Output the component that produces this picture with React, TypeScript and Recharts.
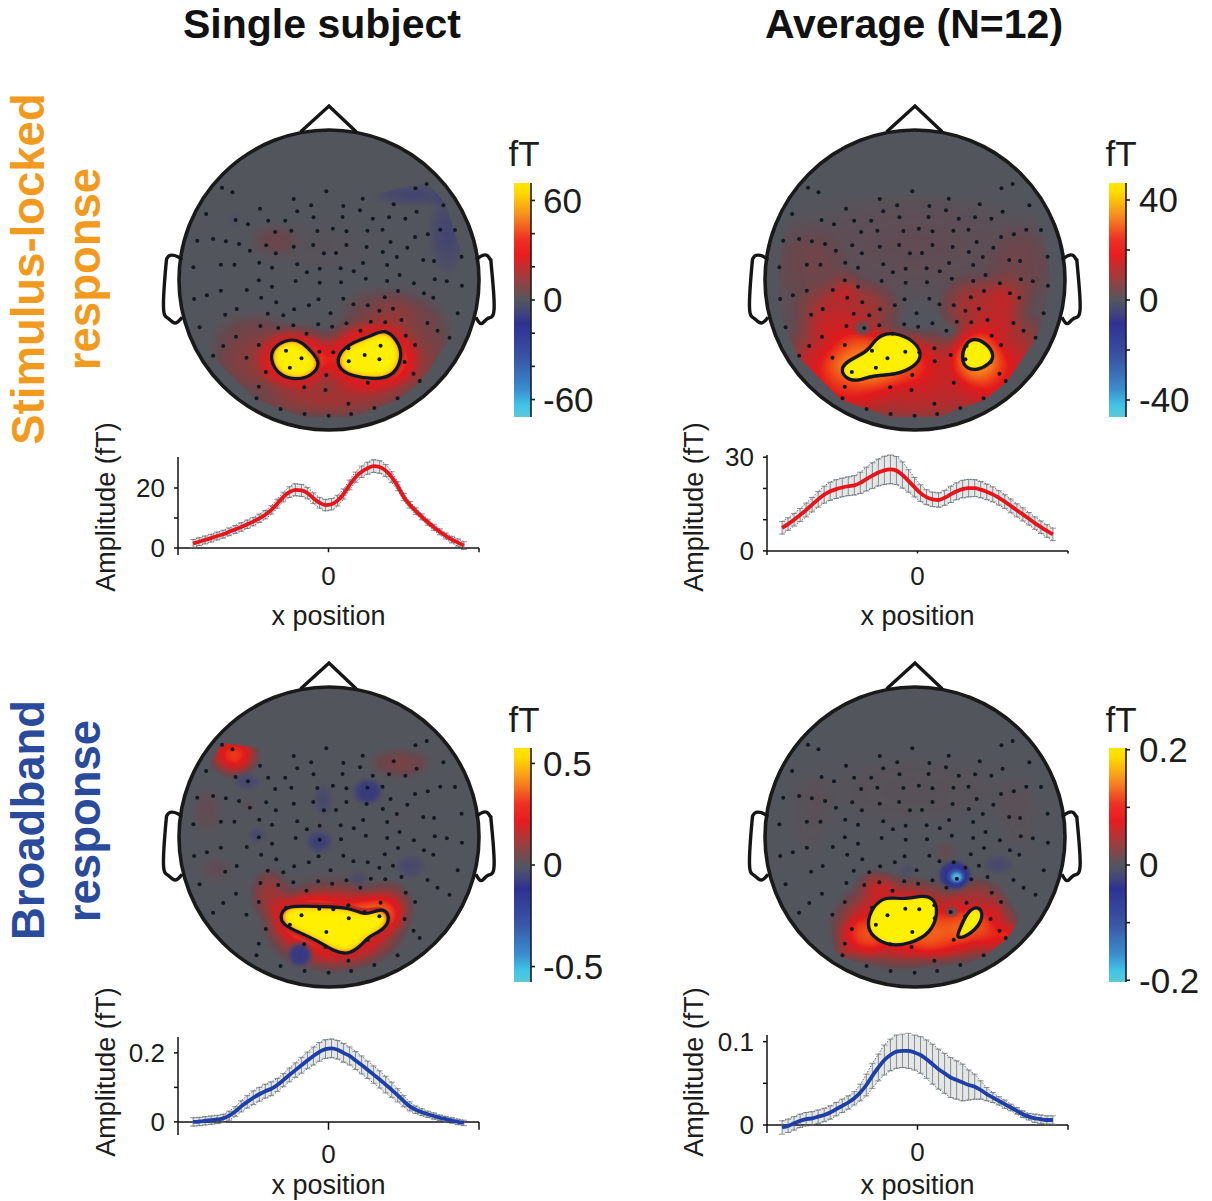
import React from "react"
import {
  ComposedChart,
  ScatterChart,
  Scatter,
  Line,
  Area,
  Bar,
  ErrorBar,
  XAxis,
  YAxis,
  ReferenceLine,
} from "recharts"

// x position along the sensor array
const xPositions = [
  -0.9, -0.86, -0.82, -0.78, -0.74, -0.7, -0.66, -0.62, -0.58, -0.54, -0.5, -0.46, -0.42, -0.38, -0.34, -0.3, -0.26,
  -0.22, -0.18, -0.14, -0.1, -0.06, -0.02, 0.02, 0.06, 0.1, 0.14, 0.18, 0.22, 0.26, 0.3, 0.34, 0.38, 0.42, 0.46, 0.5,
  0.54, 0.58, 0.62, 0.66, 0.7, 0.74, 0.78, 0.82, 0.86, 0.9,
]

const stimSingleMean = [
  1.5, 2.1, 2.7, 3.3, 4.0, 4.6, 5.4, 6.2, 7.0, 7.9, 8.8, 9.9, 11.1, 12.7, 14.8, 17.0, 18.6, 19.4, 19.2, 18.3, 16.6,
  15.1, 14.3, 14.6, 15.8, 18.0, 21.0, 23.6, 25.4, 26.6, 27.3, 27.0, 25.8, 23.6, 20.6, 17.0, 14.4, 12.3, 10.4, 8.6, 6.9,
  5.4, 4.0, 2.8, 1.8, 0.8,
]
const stimSingleErr = [
  1.3, 1.3, 1.3, 1.3, 1.3, 1.3, 1.3, 1.3, 1.4, 1.4, 1.4, 1.4, 1.4, 1.4, 1.5, 1.6, 1.8, 2, 2, 1.9, 1.8, 1.8, 1.9, 1.9,
  1.8, 1.7, 1.6, 1.7, 1.9, 2, 2.1, 2.1, 2, 1.8, 1.5, 1.2, 1.1, 1.1, 1, 1, 1, 1, 1, 1.1, 1.2, 1.3,
]
const stimAvgMean = [
  7.4, 8.6, 10.0, 11.5, 13.1, 14.8, 16.5, 18.0, 19.1, 19.8, 20.3, 20.7, 21.0, 21.8, 23.0, 24.1, 25.1, 25.8, 26.1, 25.7,
  24.3, 22.4, 20.4, 18.5, 17.2, 16.5, 16.3, 17.0, 18.1, 19.1, 19.8, 20.1, 20.1, 19.6, 18.9, 18.1, 17.0, 15.8, 14.4,
  13.0, 11.7, 10.3, 8.9, 7.6, 6.4, 5.3,
]
const stimAvgErr = [
  2, 2, 2, 2.1, 2.2, 2.3, 2.5, 2.7, 2.9, 3, 3, 3, 3.1, 3.4, 3.8, 4.1, 4.3, 4.5, 4.6, 4.5, 4.2, 3.6, 3.1, 2.7, 2.4, 2.3,
  2.3, 2.4, 2.6, 2.7, 2.8, 2.8, 2.7, 2.6, 2.5, 2.4, 2.3, 2.2, 2.2, 2.1, 2.1, 2, 2, 2, 2, 2,
]
const broadSingleMean = [
  0, 0.001, 0.003, 0.005, 0.007, 0.01, 0.018, 0.03, 0.045, 0.058, 0.07, 0.08, 0.089, 0.096, 0.107, 0.121, 0.136, 0.15,
  0.164, 0.178, 0.191, 0.203, 0.211, 0.213, 0.209, 0.2, 0.191, 0.178, 0.165, 0.151, 0.137, 0.123, 0.108, 0.093, 0.077,
  0.06, 0.045, 0.035, 0.028, 0.022, 0.017, 0.012, 0.008, 0.004, 0, -0.003,
]
const broadSingleErr = [
  0.012, 0.012, 0.012, 0.012, 0.012, 0.012, 0.013, 0.014, 0.016, 0.018, 0.02, 0.02, 0.02, 0.02, 0.019, 0.019, 0.02,
  0.021, 0.023, 0.024, 0.026, 0.027, 0.027, 0.027, 0.027, 0.027, 0.026, 0.026, 0.026, 0.025, 0.025, 0.025, 0.024, 0.022,
  0.019, 0.016, 0.013, 0.011, 0.01, 0.009, 0.009, 0.008, 0.008, 0.008, 0.008, 0.008,
]
const broadAvgMean = [
  -0.003, -0.001, 0.002, 0.005, 0.007, 0.008, 0.01, 0.012, 0.015, 0.019, 0.023, 0.027, 0.032, 0.039, 0.048, 0.059,
  0.069, 0.078, 0.084, 0.088, 0.089, 0.089, 0.087, 0.084, 0.079, 0.073, 0.067, 0.062, 0.057, 0.054, 0.051, 0.048, 0.046,
  0.042, 0.037, 0.033, 0.029, 0.025, 0.021, 0.017, 0.013, 0.01, 0.008, 0.007, 0.006, 0.006,
]
const broadAvgErr = [
  0.008, 0.008, 0.008, 0.008, 0.008, 0.008, 0.008, 0.008, 0.008, 0.008, 0.008, 0.008, 0.008, 0.01, 0.013, 0.015, 0.016,
  0.018, 0.019, 0.02, 0.02, 0.021, 0.021, 0.022, 0.023, 0.024, 0.024, 0.024, 0.024, 0.023, 0.022, 0.018, 0.015, 0.011,
  0.008, 0.006, 0.005, 0.005, 0.004, 0.004, 0.004, 0.004, 0.005, 0.005, 0.005, 0.005,
]

// sensor layout, in the head map's own units (same grid for the four maps)
const sensors = [
  [569, 323], [596, 337], [838, 334], [1068, 325], [1097, 312], [754, 357], [932, 356], [799, 376], [882, 378],
  [667, 386], [1012, 373], [1140, 376], [763, 394], [925, 391], [1071, 395], [528, 402], [805, 412], [880, 411],
  [958, 416], [1000, 412], [1042, 416], [604, 420], [688, 422], [732, 422], [636, 433], [855, 446], [748, 452],
  [706, 456], [815, 453], [890, 454], [944, 452], [983, 449], [1132, 449], [1170, 450], [1100, 463], [546, 477],
  [505, 482], [579, 484], [1067, 471], [1004, 486], [613, 492], [683, 496], [754, 500], [804, 495], [890, 495],
  [942, 501], [1047, 503], [641, 512], [708, 520], [832, 520], [863, 519], [984, 516], [1020, 531], [1187, 530],
  [1088, 540], [1116, 543], [665, 548], [933, 549], [763, 553], [995, 555], [566, 554], [601, 554], [495, 562],
  [698, 563], [821, 566], [875, 565], [788, 577], [909, 574], [1027, 585], [940, 596], [1118, 598], [1149, 604],
  [664, 601], [759, 603], [821, 608], [876, 607], [995, 603], [1064, 610], [698, 620], [1188, 617], [1023, 633],
  [633, 630], [566, 632], [530, 646], [497, 657], [1090, 640], [1114, 653], [670, 653], [882, 656], [818, 658],
  [989, 652], [908, 673], [709, 667], [793, 676], [945, 676], [755, 688], [975, 692], [1010, 686], [607, 687],
  [577, 704], [687, 701], [849, 700], [727, 706], [1177, 700], [890, 730], [817, 733], [853, 740], [1032, 720],
  [990, 727], [953, 725], [668, 738], [714, 744], [753, 736], [1099, 729], [511, 742], [926, 752], [1125, 752],
  [787, 761], [605, 770], [1156, 773], [1043, 767], [664, 795], [572, 798], [978, 797], [1067, 795], [734, 812],
  [895, 805], [820, 815], [856, 817], [546, 827], [632, 833], [774, 835], [937, 825], [975, 838], [896, 844],
  [1040, 846], [744, 863], [682, 876], [838, 885], [1063, 881], [945, 908], [1079, 903], [781, 922], [664, 920],
  [836, 930], [658, 955], [1022, 955], [895, 971], [962, 984], [720, 987], [782, 1002], [902, 1002], [844, 1007],
]
const headCentre = [[845, 600]]
const noseLine = [[772, 155], [845, 78], [915, 155]]
const leftEar = [[465, 540], [455, 530], [435, 526], [427, 535], [424, 560], [418, 680], [430, 715], [448, 729], [466, 712]]
const rightEar = [[1225, 540], [1235, 530], [1252, 526], [1262, 540], [1264, 560], [1271, 685], [1255, 715], [1238, 731], [1224, 712]]
const sensorHull = [
  [569, 318], [760, 345], [950, 345], [1097, 305], [1145, 370], [1190, 530], [1192, 620], [1178, 700], [1158, 775],
  [1082, 905], [1024, 960], [904, 1012], [780, 1012], [655, 960], [543, 830], [508, 745], [493, 655], [493, 560],
  [503, 480], [526, 400],
]

// field patches: centre x, centre y, extent x, extent y, strength
const stimSingleGlow = [
  [860, 880, 320, 170, 0.2], [650, 810, 140, 140, 0.2], [1050, 790, 140, 190, 0.22], [965, 710, 120, 110, 0.16],
  [760, 838, 105, 100, 0.68], [950, 835, 140, 115, 0.68], [700, 480, 80, 60, 0.12], [850, 960, 220, 60, 0.2],
  [820, 500, 200, 110, 0.06],
]
const stimSingleCold = [[1060, 345, 130, 42, 0.22], [1150, 460, 60, 150, 0.22], [600, 420, 30, 40, 0.1]]
const stimSingleCores = [
  [[745, 775], [700, 800], [693, 840], [715, 885], [755, 900], [800, 890], [825, 850], [800, 815], [775, 785]],
  [[990, 745], [950, 770], [900, 790], [870, 820], [865, 860], [900, 890], [985, 900], [1020, 875], [1035, 820], [1020, 780]],
]
const stimAvgGlow = [
  [790, 500, 430, 220, 0.11], [500, 620, 130, 230, 0.11], [1080, 620, 120, 230, 0.11], [790, 900, 360, 170, 0.45],
  [590, 860, 170, 170, 0.42], [1020, 850, 150, 170, 0.38], [620, 700, 150, 110, 0.36], [960, 690, 120, 110, 0.36],
  [700, 840, 165, 100, 0.48], [950, 830, 80, 95, 0.55], [1040, 640, 60, 70, 0.16], [610, 620, 40, 50, 0.18],
]
const stimAvgNeutral = [[655, 745, 28, 28], [875, 750, 28, 30]]
const stimAvgCores = [
  [[715, 758], [685, 780], [670, 815], [620, 840], [597, 865], [610, 895], [640, 905], [680, 885], [740, 885], [790, 860], [810, 825], [790, 785], [750, 762]],
  [[940, 772], [918, 795], [910, 835], [920, 865], [950, 872], [985, 850], [995, 825], [975, 790]],
]
const broadSingleGlow = [
  [860, 800, 235, 170, 0.14], [860, 835, 190, 140, 0.62], [780, 800, 105, 80, 0.42], [965, 790, 85, 70, 0.42],
  [690, 730, 55, 85, 0.3], [1005, 770, 65, 85, 0.3], [600, 315, 70, 70, 0.65], [1030, 340, 100, 55, 0.2],
  [530, 480, 55, 90, 0.12], [555, 660, 55, 55, 0.12], [640, 470, 25, 20, 0.18], [820, 525, 15, 15, 0.22],
  [1020, 490, 15, 15, 0.22],
]
const broadSingleCold = [
  [770, 915, 38, 45, 0.4], [945, 425, 50, 50, 0.34], [830, 450, 32, 65, 0.2], [820, 575, 45, 45, 0.28],
  [660, 555, 32, 32, 0.2], [635, 395, 45, 32, 0.22], [1055, 650, 50, 45, 0.2], [920, 685, 32, 28, 0.18],
  [840, 295, 38, 14, 0.22],
]
const broadSingleCores = [
  [[735, 765], [718, 795], [725, 825], [770, 848], [820, 875], [860, 905], [895, 915], [930, 885], [945, 860], [990, 838], [1003, 800], [985, 775], [960, 785], [935, 795], [900, 772], [820, 770]],
]
const broadAvgGlow = [
  [760, 820, 205, 150, 0.6], [900, 860, 175, 90, 0.45], [950, 755, 90, 80, 0.35], [1000, 830, 70, 90, 0.36],
  [650, 865, 75, 75, 0.4], [930, 830, 60, 70, 0.3], [690, 700, 60, 45, 0.3], [1040, 860, 35, 35, 0.35],
  [600, 915, 25, 25, 0.35], [790, 420, 330, 150, 0.07], [520, 500, 75, 170, 0.07], [1060, 500, 75, 150, 0.07],
  [870, 605, 40, 40, 0.14],
]
const broadAvgCold = [
  [893, 675, 48, 50, 0.68], [898, 682, 24, 24, 1], [898, 682, 18, 18, 1], [1005, 645, 52, 38, 0.2],
  [770, 660, 28, 28, 0.14], [645, 690, 16, 12, 0.14],
]
const broadAvgNeutral = [[885, 785, 20, 20]]
const broadAvgCores = [
  [[715, 738], [680, 770], [665, 825], [680, 860], [725, 890], [780, 880], [830, 850], [850, 790], [840, 745], [810, 735], [760, 750]],
  [[950, 768], [925, 785], [905, 840], [895, 868], [930, 855], [960, 820], [965, 785]],
]

const FONT = '"Liberation Sans", Arial, sans-serif'
const INK = "#1c1c1c"
const MAP_X = [409, 1281]
const MAP_Y = [60, 1062]
const MAP_W = 338
const MAP_H = 334
const unitX = MAP_W / (MAP_X[1] - MAP_X[0])
const unitY = MAP_H / (MAP_Y[1] - MAP_Y[0])

const toPoints = (rows, dx = 0, dy = 0) => rows.map((r) => ({ x: r[0] + dx, y: r[1] + dy }))
const toPatches = (rows, dx = 0, dy = 0) =>
  rows.map((r) => ({ x: r[0] + dx, y: r[1] + dy, rx: r[2], ry: r[3], v: r[4] ?? 1 }))

const Patch = ({ cx, cy, payload }: any) => (
  <ellipse cx={cx} cy={cy} rx={payload.rx * unitX} ry={payload.ry * unitY} fill="url(#spotFade)" fillOpacity={payload.v} />
)
const GreyPatch = ({ cx, cy, payload }: any) => (
  <ellipse cx={cx} cy={cy} rx={payload.rx * unitX} ry={payload.ry * unitY} fill="url(#greyFade)" />
)
const SensorDot = ({ cx, cy }: any) => <circle cx={cx} cy={cy} r={2} fill="#101820" />
const HeadDisc = ({ cx, cy }: any) => <circle cx={cx} cy={cy} r={150} fill="#53555d" stroke="#1a1a1a" strokeWidth={3.6} />
const NoDot = () => null

function HeadMap({ left, top, dx = 0, dy = 0, glow = [], cold = [], neutral = [], cores = [], soft = false }: any) {
  const coreLines = cores.map((c) => toPoints(c, dx, dy))
  return (
    <div style={{ position: "absolute", left, top }}>
      <ScatterChart width={MAP_W} height={MAP_H} margin={{ top: 0, right: 0, bottom: 0, left: 0 }}>
        <XAxis type="number" dataKey="x" domain={MAP_X} hide allowDataOverflow />
        <YAxis type="number" dataKey="y" domain={MAP_Y} reversed hide allowDataOverflow />
        <Scatter data={toPoints(headCentre)} shape={HeadDisc} isAnimationActive={false} />
        <Scatter className="heat-glow" data={toPatches(glow, dx, dy)} shape={Patch} isAnimationActive={false} />
        <Scatter className="heat-cold" data={toPatches(cold, dx, dy)} shape={Patch} isAnimationActive={false} />
        <Scatter data={toPatches(neutral, dx, dy)} shape={GreyPatch} isAnimationActive={false} />
        {coreLines.map((pts, i) => (
          <Scatter
            key={`core-${i}`}
            className={soft ? "heat-core-soft" : "heat-core"}
            data={pts}
            shape={NoDot}
            line={{ fill: "#fff", stroke: "none" }}
            lineJointType="basisClosed"
            isAnimationActive={false}
          />
        ))}
        {coreLines.map((pts, i) => (
          <Scatter
            key={`contour-${i}`}
            data={pts}
            shape={NoDot}
            line={{ stroke: "#0b1a26", strokeWidth: 3.2, fill: "none" }}
            lineJointType="basisClosed"
            isAnimationActive={false}
          />
        ))}
        <Scatter data={toPoints(sensors)} shape={SensorDot} isAnimationActive={false} />
        <Scatter
          data={toPoints(noseLine)}
          shape={NoDot}
          line={{ stroke: "#151515", strokeWidth: 3.4, fill: "none" }}
          isAnimationActive={false}
        />
        {[leftEar, rightEar].map((rows, i) => (
          <Scatter
            key={`ear-${i}`}
            data={toPoints(rows)}
            shape={NoDot}
            line={{ stroke: "#151515", strokeWidth: 3.4, fill: "none" }}
            lineJointType="natural"
            isAnimationActive={false}
          />
        ))}
      </ScatterChart>
    </div>
  )
}

function ColorBar({ left, top, barHeight, lo, hi, ticks, labelled, tickGap }: any) {
  const data = [{ c: "fT", range: [lo, hi] }]
  return (
    <div style={{ position: "absolute", left, top: top - 20 }}>
      <ComposedChart width={108} height={barHeight + 40} data={data} margin={{ top: 20, right: 0, bottom: 20, left: 0 }}>
        <XAxis dataKey="c" hide />
        <YAxis
          orientation="right"
          type="number"
          width={90}
          domain={[lo, hi]}
          allowDataOverflow
          ticks={ticks}
          interval={0}
          tickSize={4}
          tickMargin={tickGap}
          tick={{ fontSize: 35, fill: INK }}
          tickFormatter={(v) => (labelled.includes(v) ? String(v) : "")}
          stroke={INK}
          strokeWidth={1.6}
        />
        <Bar dataKey="range" barSize={17} fill="url(#cmap)" isAnimationActive={false} />
      </ComposedChart>
    </div>
  )
}

function ProfilePlot({ axisX, plotTop, plotBottom, yMin, yMax, ticks, labelled, mean, err, color, zeroGap, nameGap }: any) {
  const data = xPositions.map((x, i) => ({
    x,
    mean: mean[i],
    err: err[i],
    band: [mean[i] - err[i], mean[i] + err[i]],
  }))
  const plotH = plotBottom - plotTop
  const xTick = yMin * 0.6
  return (
    <div style={{ position: "absolute", left: axisX - 98, top: plotTop - 20 }}>
      <ComposedChart width={409} height={plotH + 110} data={data} margin={{ top: 20, right: 10, bottom: 0, left: 0 }}>
        <XAxis
          type="number"
          dataKey="x"
          domain={[-1, 1]}
          ticks={[0]}
          axisLine={false}
          tickLine={false}
          tickMargin={zeroGap}
          height={90}
          tick={{ fontSize: 26, fill: INK }}
          label={{ value: "x position", position: "insideBottom", offset: nameGap, fontSize: 27, fill: INK }}
        />
        <YAxis
          type="number"
          width={98}
          domain={[yMin, yMax]}
          allowDataOverflow
          ticks={ticks}
          interval={0}
          tickSize={4}
          tickMargin={9}
          tick={{ fontSize: 26, fill: INK }}
          tickFormatter={(v) => (labelled.includes(v) ? String(v) : "")}
          stroke="#111"
          strokeWidth={1.5}
        />
        <ReferenceLine y={0} stroke="#111" strokeWidth={1.5} />
        {[0, 1].map((x) => (
          <ReferenceLine key={x} segment={[{ x, y: 0 }, { x, y: xTick }]} stroke="#111" strokeWidth={1.5} />
        ))}
        <Area
          dataKey="band"
          type="monotone"
          fill="#b4b9ba"
          fillOpacity={0.35}
          stroke="#666e72"
          strokeWidth={1}
          strokeDasharray="1.5 1.5"
          dot={false}
          activeDot={false}
          isAnimationActive={false}
        />
        <Line dataKey="mean" stroke="none" dot={false} activeDot={false} isAnimationActive={false}>
          <ErrorBar dataKey="err" width={3} stroke="#6f777b" strokeWidth={0.8} isAnimationActive={false} />
        </Line>
        <Line
          dataKey="mean"
          type="monotone"
          stroke={color}
          strokeWidth={3.8}
          dot={false}
          activeDot={false}
          isAnimationActive={false}
        />
      </ComposedChart>
    </div>
  )
}

const hullPolygon = sensorHull.map(([x, y]) => `${(x - MAP_X[0]) * unitX},${(y - MAP_Y[0]) * unitY}`).join(" ")

function HeatFilter({ id, blur, alpha, red, green, blue }: any) {
  return (
    <filter id={id} filterUnits="userSpaceOnUse" x={-20} y={-20} width={400} height={400} colorInterpolationFilters="sRGB">
      <feGaussianBlur stdDeviation={blur} />
      <feColorMatrix type="matrix" values="0 0 0 1 0  0 0 0 1 0  0 0 0 1 0  0 0 0 1 0" />
      <feComponentTransfer>
        <feFuncR type="table" tableValues={red} />
        <feFuncG type="table" tableValues={green} />
        <feFuncB type="table" tableValues={blue} />
        <feFuncA type="table" tableValues={alpha} />
      </feComponentTransfer>
    </filter>
  )
}

function SharedDefs() {
  const hot = {
    red: ".325 .41 .55 .745 .89 .94 .97 .99 1",
    green: ".333 .28 .235 .157 .10 .31 .58 .84 .94",
    blue: ".365 .306 .235 .165 .11 .10 .114 .06 0",
  }
  const cold = { red: ".325 .24 .18 .23 .3", green: ".333 .24 .2 .36 .8", blue: ".365 .48 .57 .68 .93" }
  return (
    <svg width={0} height={0} style={{ position: "absolute" }}>
      <defs>
        <radialGradient id="spotFade">
          <stop offset="0" stopColor="#fff" stopOpacity={1} />
          <stop offset="0.55" stopColor="#fff" stopOpacity={0.72} />
          <stop offset="1" stopColor="#fff" stopOpacity={0} />
        </radialGradient>
        <radialGradient id="greyFade">
          <stop offset="0" stopColor="#53555d" stopOpacity={1} />
          <stop offset="0.4" stopColor="#53555d" stopOpacity={0.85} />
          <stop offset="1" stopColor="#53555d" stopOpacity={0} />
        </radialGradient>
        <linearGradient id="cmap" x1="0" y1="0" x2="0" y2="1">
          <stop offset="0" stopColor="#ffe600" />
          <stop offset="0.04" stopColor="#fedb00" />
          <stop offset="0.13" stopColor="#f7941d" />
          <stop offset="0.24" stopColor="#ee3124" />
          <stop offset="0.31" stopColor="#e81c1f" />
          <stop offset="0.4" stopColor="#a33b3b" />
          <stop offset="0.5" stopColor="#54565e" />
          <stop offset="0.56" stopColor="#41437f" />
          <stop offset="0.6" stopColor="#2e3192" />
          <stop offset="0.75" stopColor="#3a55a4" />
          <stop offset="0.88" stopColor="#3b8ccc" />
          <stop offset="0.95" stopColor="#40c4e8" />
          <stop offset="1" stopColor="#5ec8d8" />
        </linearGradient>
        <clipPath id="hull">
          <polygon points={hullPolygon} />
        </clipPath>
        <HeatFilter id="mapGlow" blur={5} alpha="0 1 1 1 1 1 1 1 1" {...hot} />
        <HeatFilter id="mapCore" blur={2} alpha="0 0 0 1 1 1 1 1 1" {...hot} />
        <HeatFilter id="mapCoreSoft" blur={4.5} alpha="0 0 0 1 1 1 1 1 1" {...hot} />
        <HeatFilter id="mapCold" blur={2} alpha="0 1 1 1 1" {...cold} />
      </defs>
    </svg>
  )
}

const titleStyle = { fontFamily: FONT, fontWeight: 700, fontSize: 41, fill: "#111", textAnchor: "middle" } as const
const sideStyle = { fontFamily: FONT, fontWeight: 700, fontSize: 45.5, textAnchor: "middle" } as const
const unitStyle = { fontFamily: FONT, fontSize: 35, fill: INK, textAnchor: "middle" } as const
const ampStyle = { fontFamily: FONT, fontSize: 27, fill: INK, textAnchor: "middle" } as const

function Labels() {
  const side = (x, y, text, fill) => (
    <text x={x} y={y} transform={`rotate(-90 ${x} ${y})`} style={{ ...sideStyle, fill }}>
      {text}
    </text>
  )
  const amp = (x, y) => (
    <text x={x} y={y} transform={`rotate(-90 ${x} ${y})`} style={ampStyle}>
      Amplitude (fT)
    </text>
  )
  return (
    <svg width={1212} height={1201} style={{ position: "absolute", left: 0, top: 0, pointerEvents: "none" }}>
      <text x={322} y={38} style={titleStyle}>Single subject</text>
      <text x={914} y={38} style={titleStyle}>Average (N=12)</text>
      {side(44, 269, "Stimulus-locked", "#f29a1e")}
      {side(100, 269, "response", "#f29a1e")}
      {side(44, 820, "Broadband", "#2a4a9c")}
      {side(100, 821, "response", "#2a4a9c")}
      <text x={524} y={166} style={unitStyle}>fT</text>
      <text x={1121} y={166} style={unitStyle}>fT</text>
      <text x={524} y={732} style={unitStyle}>fT</text>
      <text x={1121} y={732} style={unitStyle}>fT</text>
      {amp(115, 507)}
      {amp(703, 507)}
      {amp(115, 1072)}
      {amp(703, 1072)}
    </svg>
  )
}

export default function App() {
  return (
    <div style={{ position: "absolute", left: 0, top: 0, width: 1212, height: 1201, overflow: "hidden", background: "#fff", fontFamily: FONT }}>
      <style>{`
        .heat-glow { filter: url(#mapGlow); clip-path: url(#hull); }
        .heat-cold { filter: url(#mapCold); clip-path: url(#hull); }
        .heat-core { filter: url(#mapCore); }
        .heat-core-soft { filter: url(#mapCoreSoft); }
      `}</style>
      <SharedDefs />

      <HeadMap left={160} top={100} soft glow={stimSingleGlow} cold={stimSingleCold} cores={stimSingleCores} />
      <HeadMap left={745.5} top={100} dx={55} glow={stimAvgGlow} neutral={stimAvgNeutral} cores={stimAvgCores} />
      <HeadMap left={160} top={657} dy={39} soft glow={broadSingleGlow} cold={broadSingleCold} cores={broadSingleCores} />
      <HeadMap left={745.5} top={657} dx={55} dy={39} glow={broadAvgGlow} cold={broadAvgCold} neutral={broadAvgNeutral} cores={broadAvgCores} />

      <ColorBar left={513} top={183} barHeight={234} lo={-70.5} hi={70.5} ticks={[-60, -40, -20, 0, 20, 40, 60]} labelled={[-60, 0, 60]} tickGap={8} />
      <ColorBar left={1108} top={183} barHeight={234} lo={-46.8} hi={46.8} ticks={[-40, -20, 0, 20, 40]} labelled={[-40, 0, 40]} tickGap={9} />
      <ColorBar left={513} top={748} barHeight={234} lo={-0.576} hi={0.576} ticks={[-0.5, 0, 0.5]} labelled={[-0.5, 0, 0.5]} tickGap={8} />
      <ColorBar left={1108} top={748} barHeight={234} lo={-0.203} hi={0.203} ticks={[-0.2, -0.1, 0, 0.1, 0.2]} labelled={[-0.2, 0, 0.2]} tickGap={9} />

      <ProfilePlot axisX={178} plotTop={457} plotBottom={555} yMin={-2.33} yMax={30.33} ticks={[0, 10, 20]} labelled={[0, 20]} mean={stimSingleMean} err={stimSingleErr} color="#e8141c" zeroGap={6} nameGap={20} />
      <ProfilePlot axisX={767} plotTop={455} plotBottom={555} yMin={-1.3} yMax={30.7} ticks={[0, 10, 20, 30]} labelled={[0, 30]} mean={stimAvgMean} err={stimAvgErr} color="#e8141c" zeroGap={6} nameGap={20} />
      <ProfilePlot axisX={178} plotTop={1037} plotBottom={1135} yMin={-0.038} yMax={0.246} ticks={[0, 0.1, 0.2]} labelled={[0, 0.2]} mean={broadSingleMean} err={broadSingleErr} color="#1f3fa8" zeroGap={4} nameGap={31} />
      <ProfilePlot axisX={767} plotTop={1035} plotBottom={1133} yMin={-0.0096} yMax={0.108} ticks={[0, 0.05, 0.1]} labelled={[0, 0.1]} mean={broadAvgMean} err={broadAvgErr} color="#1f3fa8" zeroGap={4} nameGap={29} />

      <Labels />
    </div>
  )
}
